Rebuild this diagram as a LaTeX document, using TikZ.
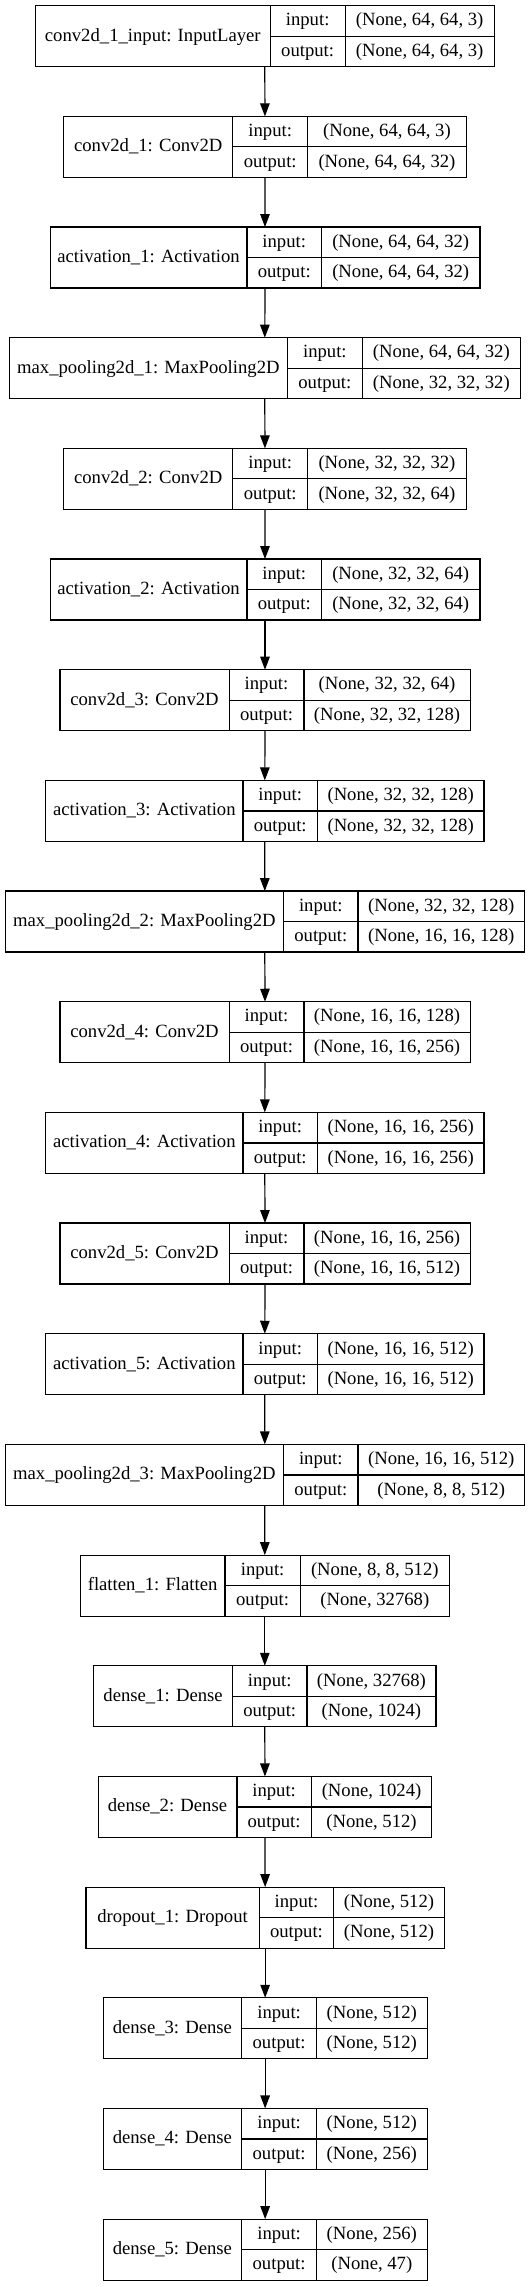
\documentclass[tikz,border=0pt]{standalone}
\usepackage{fontspec}
\setmainfont{Liberation Serif}
\usetikzlibrary{arrows.meta}
\tikzset{
  ln/.style={draw=black, line width=1.2pt},
  box/.style={ln, rectangle, inner sep=0pt, outer sep=0pt, minimum height=61pt},
  txt/.style={inner sep=0pt, font=\fontsize{18.67}{22}\selectfont, text height=13pt, text depth=3pt},
  arr/.style={ln, -{Triangle[length=13pt,width=9.5pt]}}
}
\newcommand{\lay}[9]{%
  \pgfmathsetmacro{\yt}{5.7+110.67*#2}%
  \pgfmathsetmacro{\ym}{\yt+30.5}%
  \pgfmathsetmacro{\yb}{\yt+61}%
  \pgfmathsetmacro{\yi}{\yt+15.25}%
  \pgfmathsetmacro{\yo}{\yt+45.75}%
  \pgfmathsetmacro{\xa}{(#3+#4)/2}%
  \pgfmathsetmacro{\xb}{(#4+#5)/2}%
  \pgfmathsetmacro{\xc}{(#5+#6)/2}%
  \node[box, minimum width={(#6-#3)*1pt}, anchor=north west] (#1) at (#3,\yt) {};
  \draw[ln] (#4,\yt) -- (#4,\yb) (#4,\ym) -- (#6,\ym) (#5,\yt) -- (#5,\yb);
  \node[txt] (#1-name) at (\xa,\ym) {#7};
  \node[txt] (#1-il) at (\xb,\yi) {input:};
  \node[txt] (#1-ol) at (\xb,\yo) {output:};
  \node[txt] (#1-iv) at (\xc,\yi) {#8};
  \node[txt] (#1-ov) at (\xc,\yo) {#9};
}
\begin{document}
\begin{tikzpicture}[x=1pt,y=-1pt]
\useasboundingbox (0,0) rectangle (531,2287);
\lay{L0}{0}{35.5}{270.1}{345.2}{494.1}{conv2d\_1\_input: InputLayer}{(None, 64, 64, 3)}{(None, 64, 64, 3)}
\lay{L1}{1}{63.6}{232.8}{307.6}{466.3}{conv2d\_1: Conv2D}{(None, 64, 64, 3)}{(None, 64, 64, 32)}
\lay{L2}{2}{50.1}{247.0}{321.5}{479.9}{activation\_1: Activation}{(None, 64, 64, 32)}{(None, 64, 64, 32)}
\lay{L3}{3}{9.1}{287.6}{362.1}{520.5}{max\_pooling2d\_1: MaxPooling2D}{(None, 64, 64, 32)}{(None, 32, 32, 32)}
\lay{L4}{4}{63.6}{232.8}{307.6}{466.3}{conv2d\_2: Conv2D}{(None, 32, 32, 32)}{(None, 32, 32, 64)}
\lay{L5}{5}{50.1}{247.0}{321.5}{479.9}{activation\_2: Activation}{(None, 32, 32, 64)}{(None, 32, 32, 64)}
\lay{L6}{6}{59.9}{229.1}{303.9}{470.1}{conv2d\_3: Conv2D}{(None, 32, 32, 64)}{(None, 32, 32, 128)}
\lay{L7}{7}{45.7}{243.0}{317.4}{483.9}{activation\_3: Activation}{(None, 32, 32, 128)}{(None, 32, 32, 128)}
\lay{L8}{8}{5.1}{283.6}{358.0}{524.5}{max\_pooling2d\_2: MaxPooling2D}{(None, 32, 32, 128)}{(None, 16, 16, 128)}
\lay{L9}{9}{59.9}{229.1}{303.9}{470.1}{conv2d\_4: Conv2D}{(None, 16, 16, 128)}{(None, 16, 16, 256)}
\lay{L10}{10}{45.7}{243.0}{317.4}{483.9}{activation\_4: Activation}{(None, 16, 16, 256)}{(None, 16, 16, 256)}
\lay{L11}{11}{59.9}{229.1}{303.9}{470.1}{conv2d\_5: Conv2D}{(None, 16, 16, 256)}{(None, 16, 16, 512)}
\lay{L12}{12}{45.7}{243.0}{317.4}{483.9}{activation\_5: Activation}{(None, 16, 16, 512)}{(None, 16, 16, 512)}
\lay{L13}{13}{5.1}{283.6}{358.0}{524.5}{max\_pooling2d\_3: MaxPooling2D}{(None, 16, 16, 512)}{(None, 8, 8, 512)}
\lay{L14}{14}{80.2}{225.0}{300.2}{449.4}{flatten\_1: Flatten}{(None, 8, 8, 512)}{(None, 32768)}
\lay{L15}{15}{93.7}{232.5}{306.9}{435.9}{dense\_1: Dense}{(None, 32768)}{(None, 1024)}
\lay{L16}{16}{98.1}{236.9}{311.3}{431.8}{dense\_2: Dense}{(None, 1024)}{(None, 512)}
\lay{L17}{17}{86.0}{259.2}{333.7}{444.3}{dropout\_1: Dropout}{(None, 512)}{(None, 512)}
\lay{L18}{18}{103.2}{241.6}{316.6}{427.1}{dense\_3: Dense}{(None, 512)}{(None, 512)}
\lay{L19}{19}{103.2}{241.6}{316.6}{427.1}{dense\_4: Dense}{(None, 512)}{(None, 256)}
\lay{L20}{20}{103.2}{241.6}{316.6}{427.1}{dense\_5: Dense}{(None, 256)}{(None, 47)}
\foreach \a/\b in {L0/L1,L1/L2,L2/L3,L3/L4,L4/L5,L5/L6,L6/L7,L7/L8,L8/L9,L9/L10,L10/L11,L11/L12,L12/L13,L13/L14,L14/L15,L15/L16,L16/L17,L17/L18,L18/L19,L19/L20}
  \draw[arr] (\a.south) -- (\b.north);
\end{tikzpicture}
\end{document}
